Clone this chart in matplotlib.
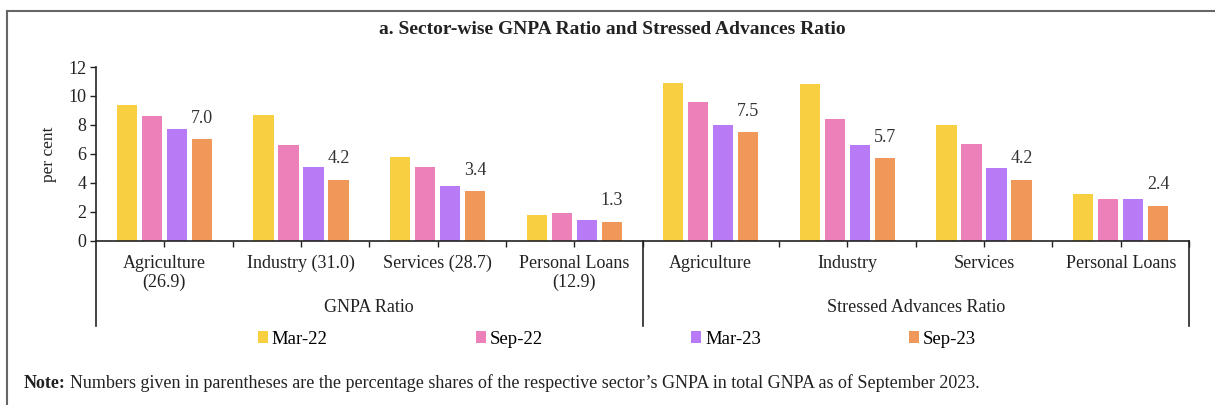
import numpy as np
import matplotlib
matplotlib.use("Agg")
import matplotlib.pyplot as plt
from matplotlib.patches import Patch
from matplotlib.lines import Line2D

plt.rcParams["font.family"] = ["Liberation Serif", "DejaVu Serif"]

# data
sectors = ["Agriculture\n(26.9)", "Industry (31.0)", "Services (28.7)", "Personal Loans\n(12.9)",
           "Agriculture", "Industry", "Services", "Personal Loans"]
groups = ["GNPA Ratio", "Stressed Advances Ratio"]
periods = ["Mar-22", "Sep-22", "Mar-23", "Sep-23"]
mar22 = [9.4, 8.7, 5.8, 1.8, 10.9, 10.8, 8.0, 3.2]
sep22 = [8.6, 6.6, 5.1, 1.9, 9.6, 8.4, 6.7, 2.9]
mar23 = [7.7, 5.1, 3.8, 1.4, 8.0, 6.6, 5.0, 2.9]
sep23 = [7.0, 4.2, 3.4, 1.3, 7.5, 5.7, 4.2, 2.4]
yticks = [0, 2, 4, 6, 8, 10, 12]

colors = ["#F7CF40", "#EC80B8", "#B97AF6", "#F0975A"]
series = [mar22, sep22, mar23, sep23]

W, H = 1215, 405
fig = plt.figure(figsize=(W / 100, H / 100), dpi=100)
ax = fig.add_axes([96 / W, 1 - 240.7 / H, (1189 - 96) / W, 173.7 / H])

x = np.arange(len(sectors))
pitch = 0.183
for i, (vals, c) in enumerate(zip(series, colors)):
    ax.bar(x + (i - 1.5) * pitch, vals, width=0.148, color=c, zorder=2)

for xi, v in zip(x, sep23):
    ax.annotate(f"{v:.1f}", (xi + 1.5 * pitch, v), xytext=(0, 9), textcoords="offset points",
                ha="center", va="bottom", fontsize=13, color="#333333")

ax.set_xlim(-0.5, len(sectors) - 0.5)
ax.set_ylim(0, 12)
ax.set_yticks(yticks)
ax.tick_params(axis="y", labelsize=13, length=4, width=1, colors="#222222", pad=3)
ax.set_xticks(np.arange(0, len(sectors) - 0.4, 0.5))
ax.set_xticklabels([])
ax.tick_params(axis="x", length=4, width=1, colors="#222222")
for s in ["top", "right"]:
    ax.spines[s].set_visible(False)
for s in ["left", "bottom"]:
    ax.spines[s].set_color("#222222")
    ax.spines[s].set_linewidth(1.2)
ax.set_ylabel("per cent", fontsize=12.5, color="#222222", labelpad=8)

tr = ax.get_xaxis_transform()
for xs in [-0.5, 3.5, 7.5]:
    ax.plot([xs, xs], [0, -0.491], transform=tr, clip_on=False, color="#222222", lw=1.2)

for xi, lab in zip(x, sectors):
    ax.text(xi, -0.08, lab, transform=tr, ha="center", va="top", fontsize=13,
            color="#222222", linespacing=1.15)
for gi, g in enumerate(groups):
    ax.text(gi * 4 + 1.5, -0.385, g, transform=tr, ha="center", va="center", fontsize=13,
            color="#222222")

handles = [Patch(facecolor=c, label=p) for c, p in zip(colors, periods)]
fig.legend(handles=handles, loc="center", bbox_to_anchor=(617 / W, 1 - 339 / H), ncol=4,
           frameon=False, fontsize=13.5, handlelength=0.55, handleheight=0.55, handletextpad=0.2,
           columnspacing=7.9)

fig.text(612 / W, 1 - 30 / H, "a. Sector-wise GNPA Ratio and Stressed Advances Ratio",
         ha="center", va="center", fontsize=14, fontweight="bold", color="#222222")

note = fig.text(24 / W, 1 - 383 / H, "Note:", ha="left", va="center", fontsize=13,
                fontweight="bold", color="#222222")
fig.canvas.draw()
bb = note.get_window_extent()
fig.text(bb.x1 / W + 4 / W, 1 - 383 / H,
         "Numbers given in parentheses are the percentage shares of the respective sector\u2019s GNPA in total GNPA as of September 2023.",
         ha="left", va="center", fontsize=13, color="#222222")

# outer frame
fig.add_artist(Line2D([7 / W, 7 / W], [0, 1 - 11 / H], color="#666666", lw=1.5))
fig.add_artist(Line2D([7 / W, 1], [1 - 11 / H, 1 - 11 / H], color="#666666", lw=1.5))

fig.savefig("out.png", dpi=100)
